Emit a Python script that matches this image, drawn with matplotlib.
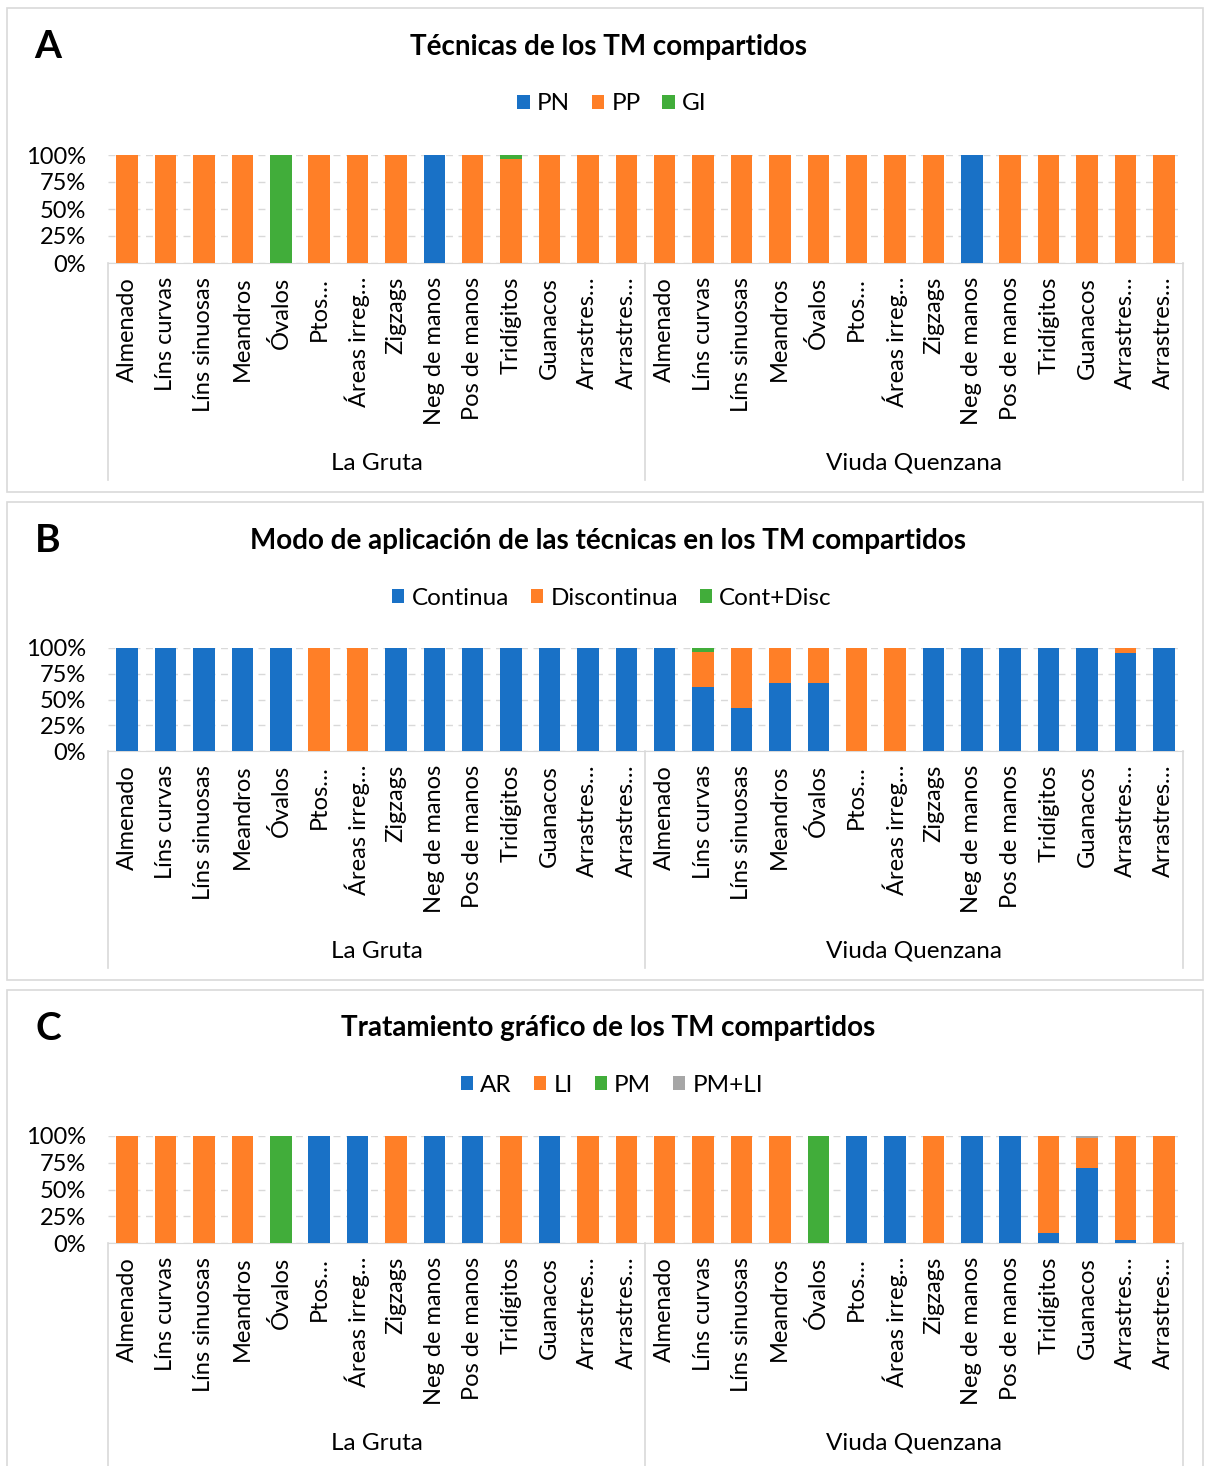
import matplotlib
matplotlib.use("Agg")
import matplotlib.pyplot as plt
from matplotlib.patches import Rectangle
from matplotlib.lines import Line2D
import numpy as np

plt.rcParams['font.family'] = ['Lato', 'DejaVu Sans']

# --- datos ---
categorias = ["Almenado", "Líns curvas", "Líns sinuosas", "Meandros", "Óvalos",
              "Ptos…", "Áreas irreg…", "Zigzags", "Neg de manos", "Pos de manos",
              "Tridígitos", "Guanacos", "Arrastres…", "Arrastres…"]
sitios = ["La Gruta", "Viuda Quenzana"]

# A: Técnicas (PN, PP, GI) -- La Gruta + Viuda Quenzana
a_pn = [0, 0, 0, 0, 0, 0, 0, 0, 100, 0, 0, 0, 0, 0,
        0, 0, 0, 0, 0, 0, 0, 0, 100, 0, 0, 0, 0, 0]
a_pp = [100, 100, 100, 100, 0, 100, 100, 100, 0, 100, 96, 100, 100, 100,
        100, 100, 100, 100, 100, 100, 100, 100, 0, 100, 100, 100, 100, 100]
a_gi = [0, 0, 0, 0, 100, 0, 0, 0, 0, 0, 4, 0, 0, 0,
        0, 0, 0, 0, 0, 0, 0, 0, 0, 0, 0, 0, 0, 0]

# B: Modo de aplicación (Continua, Discontinua, Cont+Disc)
b_cont = [100, 100, 100, 100, 100, 0, 0, 100, 100, 100, 100, 100, 100, 100,
          100, 62, 42, 66, 66, 0, 0, 100, 100, 100, 100, 100, 95, 100]
b_disc = [0, 0, 0, 0, 0, 100, 100, 0, 0, 0, 0, 0, 0, 0,
          0, 34, 58, 34, 34, 100, 100, 0, 0, 0, 0, 0, 5, 0]
b_cd = [0, 0, 0, 0, 0, 0, 0, 0, 0, 0, 0, 0, 0, 0,
        0, 4, 0, 0, 0, 0, 0, 0, 0, 0, 0, 0, 0, 0]

# C: Tratamiento gráfico (AR, LI, PM, PM+LI)
c_ar = [0, 0, 0, 0, 0, 100, 100, 0, 100, 100, 0, 100, 0, 0,
        0, 0, 0, 0, 0, 100, 100, 0, 100, 100, 9, 70, 3, 0]
c_li = [100, 100, 100, 100, 0, 0, 0, 100, 0, 0, 100, 0, 100, 100,
        100, 100, 100, 100, 0, 0, 0, 100, 0, 0, 91, 28, 97, 100]
c_pm = [0, 0, 0, 0, 100, 0, 0, 0, 0, 0, 0, 0, 0, 0,
        0, 0, 0, 0, 100, 0, 0, 0, 0, 0, 0, 0, 0, 0]
c_pmli = [0, 0, 0, 0, 0, 0, 0, 0, 0, 0, 0, 0, 0, 0,
          0, 0, 0, 0, 0, 0, 0, 0, 0, 0, 0, 2, 0, 0]

AZUL = "#1971C6"
NARANJA = "#FF7F27"
VERDE = "#41AD3A"
GRIS = "#A6A6A6"

W, H = 1205, 1466
fig = plt.figure(figsize=(W / 100, H / 100), dpi=100)


def fx(x):
    return x / W


def fy(y):
    return 1 - y / H


def panel(letra, titulo, series, nombres, colores, caja, y_tit, y_leg, y_top, y_bot):
    # marco del panel
    fig.patches.append(Rectangle((fx(7), fy(caja[1])), fx(1196), fy(caja[0]) - fy(caja[1]),
                                 transform=fig.transFigure, fill=False,
                                 edgecolor="#D9D9D9", linewidth=1.2))
    fig.text(fx(48), fy(y_tit), letra, fontsize=28, fontweight="bold",
             ha="center", va="center")
    fig.text(fx(608), fy(y_tit), titulo, fontsize=20, fontweight="bold",
             ha="center", va="center")

    ax = fig.add_axes([fx(108), fy(y_bot), fx(1183) - fx(108), fy(y_top) - fy(y_bot)])
    x = np.arange(len(categorias) * 2)
    base = np.zeros(len(x))
    handles = []
    for vals, nom, col in zip(series, nombres, colores):
        v = np.array(vals, dtype=float)
        b = ax.bar(x, v, bottom=base, width=0.56, color=col, label=nom, zorder=3)
        handles.append(b)
        base += v

    ax.set_xlim(-0.5, len(x) - 0.5)
    ax.set_ylim(0, 100)
    ax.set_yticks([0, 25, 50, 75, 100])
    ax.set_yticklabels(["0%", "25%", "50%", "75%", "100%"], fontsize=17)
    ax.yaxis.grid(True, linestyle=(0, (5, 4)), color="#D9D9D9", linewidth=1, zorder=0)
    ax.set_xticks(x)
    ax.set_xticklabels(categorias * 2, rotation=90, fontsize=17, va="top")
    ax.tick_params(axis="both", length=0)
    ax.tick_params(axis="x", pad=10)
    ax.tick_params(axis="y", pad=16)
    for s in ["top", "right", "left"]:
        ax.spines[s].set_visible(False)
    ax.spines["bottom"].set_color("#D9D9D9")

    # separadores de grupos y nombres de sitio
    for xs in [-0.5, 13.5, 27.5]:
        ax.add_line(Line2D([xs, xs], [0, -(caja[1] - 12 - y_bot) / (y_bot - y_top) * 100],
                           color="#D9D9D9", linewidth=1.2, clip_on=False))
    for i, sitio in enumerate(sitios):
        ax.text(6.5 + 14 * i, -200 / (y_bot - y_top) * 100,
                sitio, fontsize=17.5, ha="center", va="center")

    fig.legend(handles=handles, labels=nombres, loc="center",
               bbox_to_anchor=(fx(612), fy(y_leg)), ncol=len(nombres), frameon=False,
               fontsize=17.5, handlelength=0.5, handleheight=0.5, handletextpad=0.3,
               columnspacing=0.9)
    return ax


axA = panel("A", "Técnicas de los TM compartidos",
            [a_pn, a_pp, a_gi], ["PN", "PP", "GI"], [AZUL, NARANJA, VERDE],
            (8, 492), 47, 104, 155, 263)
axB = panel("B", "Modo de aplicación de las técnicas en los TM compartidos",
            [b_cont, b_disc, b_cd], ["Continua", "Discontinua", "Cont+Disc"],
            [AZUL, NARANJA, VERDE],
            (502, 980), 541, 598, 648, 751)
axC = panel("C", "Tratamiento gráfico de los TM compartidos",
            [c_ar, c_li, c_pm, c_pmli], ["AR", "LI", "PM", "PM+LI"],
            [AZUL, NARANJA, VERDE, GRIS],
            (990, 1478), 1028, 1085, 1136, 1243)

fig.savefig("out.png", dpi=100)
